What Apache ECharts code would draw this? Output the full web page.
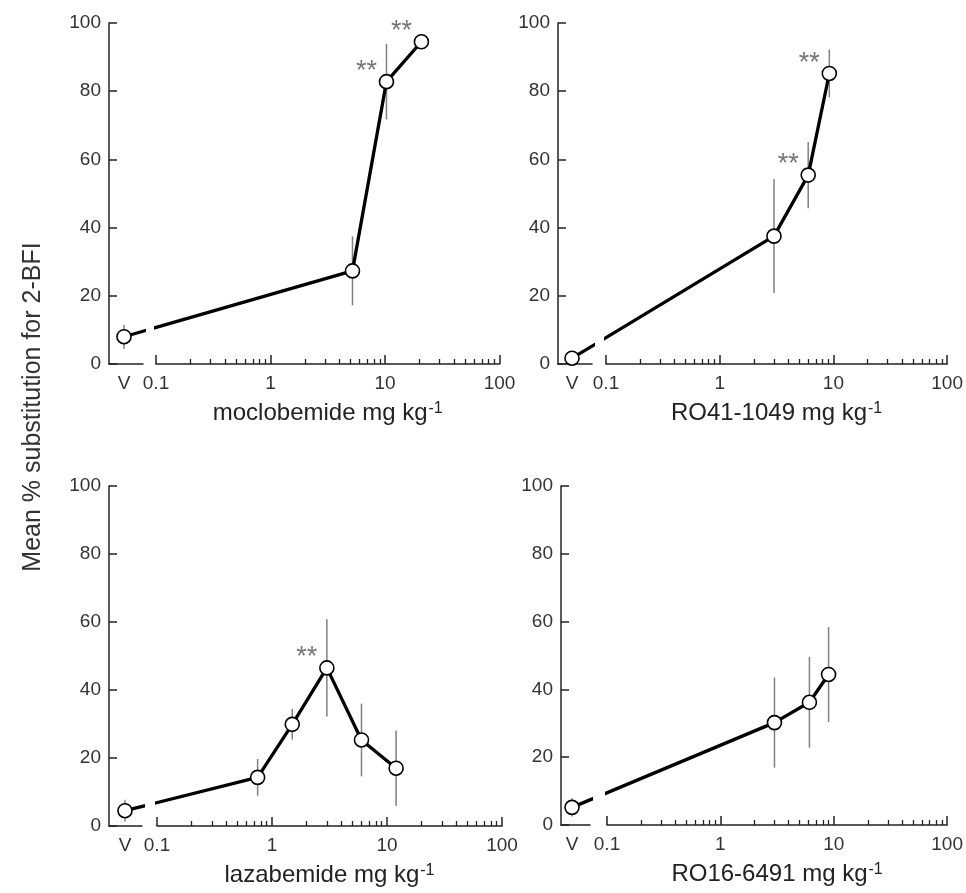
<!DOCTYPE html>
<html><head><meta charset="utf-8">
<script src="https://cdn.jsdelivr.net/npm/echarts@6/dist/echarts.min.js"></script>
<style>html,body{margin:0;padding:0;background:#fff}#c{width:966px;height:893px}</style>
</head><body><div id="c"></div>
<script>
const FONT = '"Liberation Sans", Arial, Helvetica, sans-serif';

// ---- tick labels ----
const xTickLabels = ['0.1', '1', '10', '100'];
const xMinorTickDoses = [0.2,0.3,0.4,0.5,0.6,0.7,0.8,0.9, 2,3,4,5,6,7,8,9, 20,30,40,50,60,70,80,90];
const vehicleLabel = 'V';
const yAxisTitle = 'Mean % substitution for 2-BFI';
const unitSuffix = ' mg kg';
const unitExp = '-1';

// ---- data ----
const drugNames = ['moclobemide', 'RO41-1049', 'lazabemide', 'RO16-6491'];

const moclobemideVehicle = [8.0, 3.5];          // mean, error
const moclobemideDose = [5.2, 10.3, 20.8];
const moclobemideMean = [27.3, 82.8, 94.5];
const moclobemideErr  = [10.1, 11.1, 1.5];
const moclobemideSig  = [false, true, true];

const ro411049Vehicle = [1.7, 1.0];
const ro411049Dose = [3.0, 6.0, 9.2];
const ro411049Mean = [37.5, 55.4, 85.2];
const ro411049Err  = [16.7, 9.7, 7.0];
const ro411049Sig  = [false, true, true];

const lazabemideVehicle = [4.5, 3.2];
const lazabemideDose = [0.75, 1.5, 3.0, 6.0, 12.0];
const lazabemideMean = [14.3, 29.9, 46.5, 25.3, 17.0];
const lazabemideErr  = [5.4, 4.5, 14.3, 10.7, 11.1];
const lazabemideSig  = [false, false, true, false, false];

const ro166491Vehicle = [5.2, 2.7];
const ro166491Dose = [3.0, 6.1, 9.0];
const ro166491Mean = [30.2, 36.2, 44.4];
const ro166491Err  = [13.3, 13.4, 14.0];
const ro166491Sig  = [false, false, false];

const datasets = [
  {veh: moclobemideVehicle, dose: moclobemideDose, mean: moclobemideMean, err: moclobemideErr, sig: moclobemideSig},
  {veh: ro411049Vehicle, dose: ro411049Dose, mean: ro411049Mean, err: ro411049Err, sig: ro411049Sig},
  {veh: lazabemideVehicle, dose: lazabemideDose, mean: lazabemideMean, err: lazabemideErr, sig: lazabemideSig},
  {veh: ro166491Vehicle, dose: ro166491Dose, mean: ro166491Mean, err: ro166491Err, sig: ro166491Sig}
];

// ---- layout (pixels) ----
const W = 966, H = 893;
const layout = [
  {yAxisX: 109, vX: 124, stubEnd: 143, x0: 156, D: 114.5, top: 23,  bottom: 364},
  {yAxisX: 558, vX: 572, stubEnd: 592, x0: 606, D: 114.2, top: 23,  bottom: 364},
  {yAxisX: 109, vX: 125, stubEnd: 142, x0: 157, D: 115.0, top: 486, bottom: 826},
  {yAxisX: 561, vX: 572, stubEnd: 590, x0: 607, D: 114.3, top: 486, bottom: 825}
];

const AXIS_COLOR = '#222';
const TEXT_COLOR = '#333';
const ERR_COLOR = '#808080';

const grids = [], xAxes = [], yAxes = [], series = [];

function errRender(params, api) {
  const x = api.value(0), lo = api.value(1), hi = api.value(2);
  const p1 = api.coord([x, lo]), p2 = api.coord([x, hi]);
  return {type: 'line', shape: {x1: p1[0], y1: p1[1], x2: p2[0], y2: p2[1]},
          style: {stroke: ERR_COLOR, lineWidth: 1.5}};
}

const symbolStyle = {color: '#fff', borderColor: '#000', borderWidth: 1.6};
const sigLabel = {show: true, formatter: '**', position: 'top', distance: 0, offset: [-20, 11],
                  fontSize: 27, color: '#777', fontFamily: FONT};

layout.forEach((L, p) => {
  const ds = datasets[p];
  const log10 = Math.log10;
  const minA = -1 - (L.x0 - L.yAxisX) / L.D;
  const maxA = -1 - (L.x0 - L.stubEnd) / L.D;
  const vPos = -1 - (L.x0 - L.vX) / L.D;
  const gA = 2 * p, gB = 2 * p + 1;
  const xA = 3 * p, xB = 3 * p + 1, xBm = 3 * p + 2;
  const yA = 2 * p, yB = 2 * p + 1;
  const h = L.bottom - L.top;

  grids.push({left: L.yAxisX, top: L.top, width: L.stubEnd - L.yAxisX, height: h});
  grids.push({left: L.x0, top: L.top, width: 3 * L.D, height: h});

  xAxes.push({
    type: 'value', gridIndex: gA, min: minA, max: maxA, position: 'bottom',
    axisLine: {show: true, onZero: false, lineStyle: {color: AXIS_COLOR, width: 1.5}},
    axisTick: {show: false}, splitLine: {show: false},
    axisLabel: {show: true, customValues: [vPos], formatter: () => vehicleLabel,
                fontSize: 19, color: TEXT_COLOR, fontFamily: FONT, margin: 10}
  });
  xAxes.push({
    type: 'value', gridIndex: gB, min: -1, max: 2, interval: 1, position: 'bottom',
    axisLine: {show: true, onZero: false, lineStyle: {color: AXIS_COLOR, width: 1.5}},
    axisTick: {show: true, inside: true, length: 9, lineStyle: {color: AXIS_COLOR, width: 1.5}},
    splitLine: {show: false},
    axisLabel: {formatter: v => xTickLabels[Math.round(v) + 1], fontSize: 19, color: TEXT_COLOR,
                fontFamily: FONT, margin: 10, showMinLabel: true, showMaxLabel: true},
    name: drugNames[p] + unitSuffix + '{sup|' + unitExp + '}',
    nameLocation: 'middle', nameGap: 37,
    nameTextStyle: {fontSize: 24, color: '#222', fontFamily: FONT,
                    rich: {sup: {fontSize: 16, color: '#222', fontFamily: FONT, verticalAlign: 'top', padding: [0, 0, 4, 1]}}}
  });
  xAxes.push({
    type: 'value', gridIndex: gB, min: -1, max: 2, position: 'bottom', offset: 0,
    axisLine: {show: false, onZero: false},
    axisTick: {show: true, inside: true, length: 5, customValues: xMinorTickDoses.map(log10),
               lineStyle: {color: AXIS_COLOR, width: 1.3}},
    axisLabel: {show: false}, splitLine: {show: false}
  });

  yAxes.push({
    type: 'value', gridIndex: gA, min: 0, max: 100, interval: 20, position: 'left',
    axisLine: {show: true, onZero: false, lineStyle: {color: AXIS_COLOR, width: 1.5}},
    axisTick: {show: true, inside: true, length: 8, lineStyle: {color: AXIS_COLOR, width: 1.5}},
    splitLine: {show: false},
    axisLabel: {fontSize: 19, color: TEXT_COLOR, fontFamily: FONT, margin: 8}
  });
  yAxes.push({type: 'value', gridIndex: gB, min: 0, max: 100, show: false, splitLine: {show: false}});

  const vItem = [vPos, ds.veh[0]];
  const doseItems = ds.dose.map((d, i) => {
    const it = {value: [log10(d), ds.mean[i]]};
    if (ds.sig[i]) it.label = sigLabel;
    return it;
  });

  // error bars
  series.push({type: 'custom', xAxisIndex: xA, yAxisIndex: yA, z: 1, renderItem: errRender,
               encode: {x: 0, y: [1, 2]}, silent: true,
               data: [[vPos, ds.veh[0] - ds.veh[1], ds.veh[0] + ds.veh[1]]]});
  series.push({type: 'custom', xAxisIndex: xB, yAxisIndex: yB, z: 1, renderItem: errRender,
               encode: {x: 0, y: [1, 2]}, silent: true,
               data: ds.dose.map((d, i) => [log10(d), ds.mean[i] - ds.err[i], ds.mean[i] + ds.err[i]])});

  const lineCommon = {type: 'line', z: 3, clip: true, symbol: 'circle', symbolSize: 14,
                      showAllSymbol: true, itemStyle: symbolStyle,
                      lineStyle: {color: '#000', width: 3.3}, silent: true};
  // vehicle grid
  series.push(Object.assign({}, lineCommon, {
    xAxisIndex: xA, yAxisIndex: yA,
    data: [{value: vItem}, {value: doseItems[0].value, symbol: 'none'}]
  }));
  // dose grid
  series.push(Object.assign({}, lineCommon, {
    xAxisIndex: xB, yAxisIndex: yB,
    data: [{value: vItem, symbol: 'none'}].concat(doseItems)
  }));
});

const chart = echarts.init(document.getElementById('c'), null, {renderer: 'canvas', width: W, height: H});
chart.setOption({
  backgroundColor: '#fff',
  animation: false,
  grid: grids,
  xAxis: xAxes,
  yAxis: yAxes,
  series: series,
  graphic: [{
    type: 'text', x: 33, y: 407, rotation: Math.PI / 2,
    style: {text: yAxisTitle, fontSize: 25, fontFamily: FONT, fill: '#333', align: 'center', verticalAlign: 'middle'}
  }]
});
</script></body></html>
